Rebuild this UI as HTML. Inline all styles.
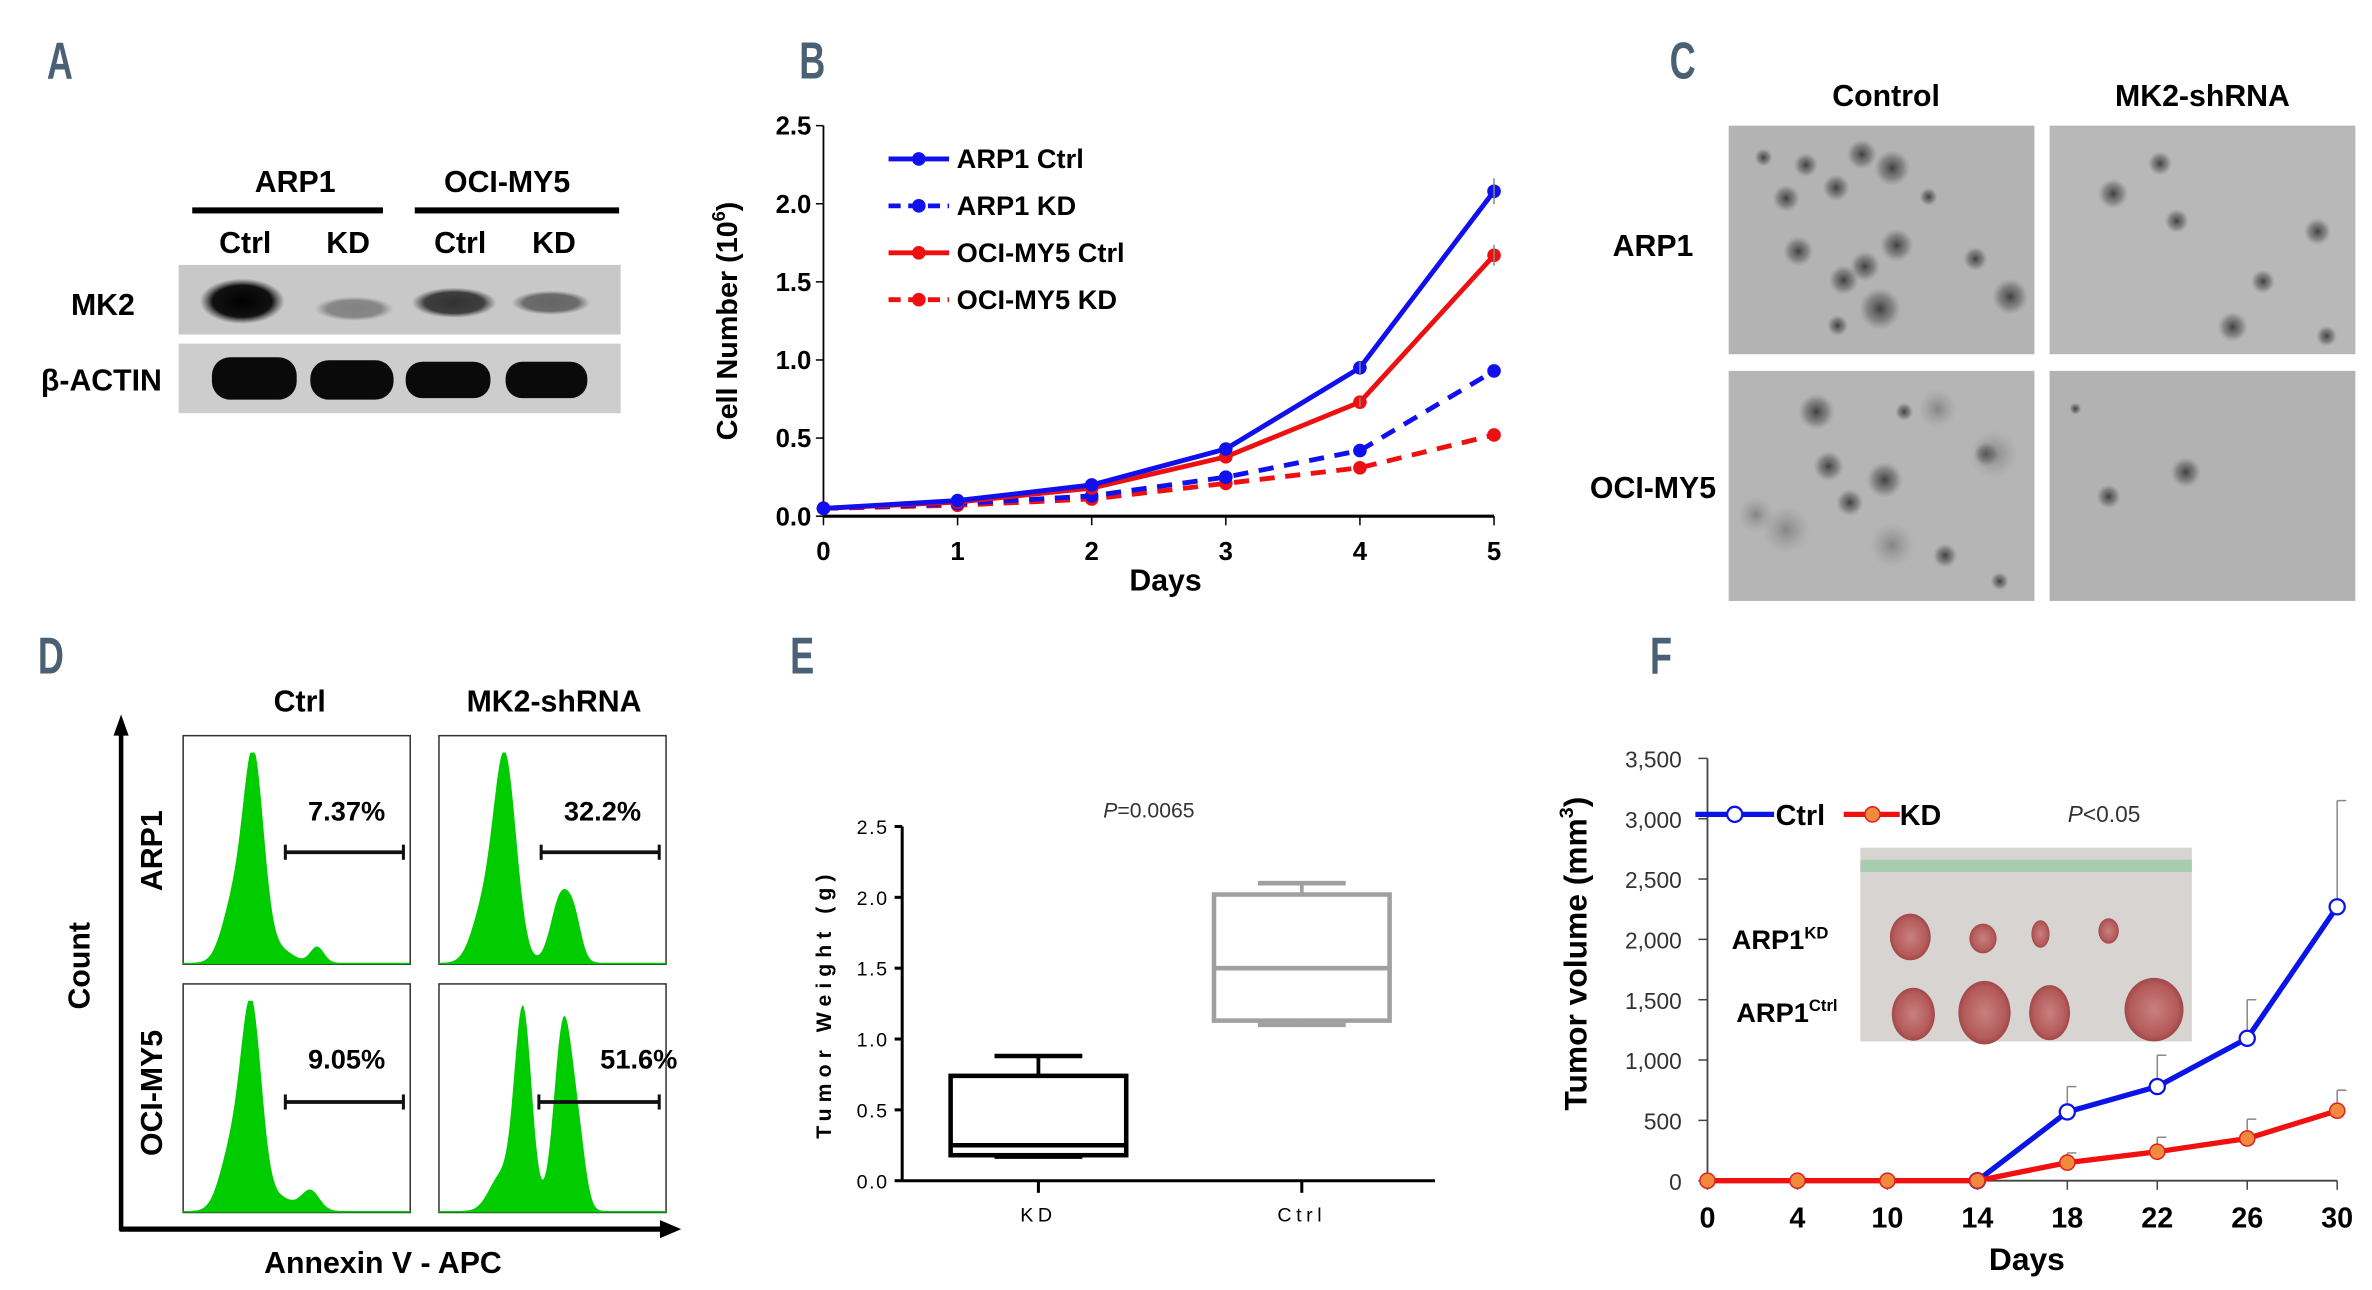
<!DOCTYPE html>
<html><head><meta charset="utf-8"><style>
html,body{margin:0;padding:0;background:#fff;}
svg{display:block;}
text{font-family:"Liberation Sans",sans-serif;}
.hd{font-family:"Liberation Sans Narrow","Liberation Sans",sans-serif;fill:#4a6075;font-size:34px;font-weight:bold;}
.b{font-weight:bold;}
</style></head><body>
<svg id="fig" width="2372" height="1290" viewBox="0 0 1567 852.2" preserveAspectRatio="none" xmlns="http://www.w3.org/2000/svg">
<defs>
<radialGradient id="blob"><stop offset="0" stop-color="#333" stop-opacity="0.9"/><stop offset="0.6" stop-color="#555" stop-opacity="0.5"/><stop offset="1" stop-color="#777" stop-opacity="0"/></radialGradient>
<radialGradient id="blobl"><stop offset="0" stop-color="#666" stop-opacity="0.6"/><stop offset="1" stop-color="#888" stop-opacity="0"/></radialGradient>
<radialGradient id="band"><stop offset="0" stop-color="#000"/><stop offset="0.7" stop-color="#111"/><stop offset="1" stop-color="#333" stop-opacity="0"/></radialGradient>
<radialGradient id="tumor"><stop offset="0" stop-color="#c98080"/><stop offset="0.8" stop-color="#b45a5a"/><stop offset="1" stop-color="#a04848"/></radialGradient>
</defs>

<!-- Panel headings -->
<text class="hd" transform="translate(31,52) scale(0.7,1)">A</text>
<text class="hd" transform="translate(528,52) scale(0.7,1)">B</text>
<text class="hd" transform="translate(1103,52) scale(0.7,1)">C</text>
<text class="hd" transform="translate(25,445) scale(0.7,1)">D</text>
<text class="hd" transform="translate(522,445) scale(0.7,1)">E</text>
<text class="hd" transform="translate(1090,445) scale(0.7,1)">F</text>

<!-- Panel A: western blot -->
<g>
<text x="195" y="127" font-size="20" class="b" text-anchor="middle">ARP1</text>
<text x="335" y="127" font-size="20" class="b" text-anchor="middle">OCI-MY5</text>
<rect x="127" y="137" width="126" height="4" fill="#000"/>
<rect x="274" y="137" width="135" height="4" fill="#000"/>
<text x="162" y="167" font-size="20" class="b" text-anchor="middle">Ctrl</text>
<text x="230" y="167" font-size="20" class="b" text-anchor="middle">KD</text>
<text x="304" y="167" font-size="20" class="b" text-anchor="middle">Ctrl</text>
<text x="366" y="167" font-size="20" class="b" text-anchor="middle">KD</text>
<text x="68" y="208" font-size="20" class="b" text-anchor="middle">MK2</text>
<text x="67" y="258" font-size="20" class="b" text-anchor="middle">β-ACTIN</text>
<rect x="118" y="175" width="292" height="46" fill="#c8c8c8"/>
<ellipse cx="160" cy="199" rx="28" ry="15" fill="url(#band)"/>
<ellipse cx="234" cy="204" rx="26" ry="8" fill="url(#band)" opacity="0.35"/>
<ellipse cx="300" cy="200" rx="28" ry="10" fill="url(#band)" opacity="0.75"/>
<ellipse cx="364" cy="200" rx="26" ry="8" fill="url(#band)" opacity="0.5"/>
<rect x="118" y="227" width="292" height="46" fill="#cdcdcd"/>
<rect x="140" y="236" width="56" height="28" rx="12" fill="#0a0a0a"/>
<rect x="205" y="238" width="55" height="26" rx="12" fill="#0a0a0a"/>
<rect x="268" y="239" width="56" height="24" rx="11" fill="#0a0a0a"/>
<rect x="334" y="239" width="54" height="24" rx="11" fill="#0a0a0a"/>
</g>

<!-- Panel B -->
<g id="chartB"></g>

<!-- Panel C -->
<g>
<text x="1246" y="70" font-size="20" class="b" text-anchor="middle">Control</text>
<text x="1455" y="70" font-size="20" class="b" text-anchor="middle">MK2-shRNA</text>
<text x="1092" y="169" font-size="20" class="b" text-anchor="middle">ARP1</text>
<text x="1092" y="329" font-size="20" class="b" text-anchor="middle">OCI-MY5</text>
<rect x="1142" y="83" width="202" height="151" fill="#b3b3b3"/>
<rect x="1354" y="83" width="202" height="151" fill="#b8b8b8"/>
<rect x="1142" y="245" width="202" height="152" fill="#b5b5b5"/>
<rect x="1354" y="245" width="202" height="152" fill="#b2b2b2"/>
<g fill="url(#blob)">
<circle cx="1165" cy="104" r="6"/><circle cx="1193" cy="109" r="8"/><circle cx="1213" cy="124" r="9"/><circle cx="1230" cy="102" r="10"/><circle cx="1250" cy="111" r="12"/><circle cx="1253" cy="162" r="11"/><circle cx="1274" cy="130" r="6"/><circle cx="1305" cy="171" r="8"/><circle cx="1188" cy="166" r="10"/><circle cx="1242" cy="204" r="14"/><circle cx="1232" cy="176" r="10"/><circle cx="1180" cy="131" r="9"/><circle cx="1328" cy="196" r="12"/><circle cx="1214" cy="215" r="7"/><circle cx="1218" cy="185" r="10"/>
<circle cx="1438" cy="146" r="8"/><circle cx="1396" cy="128" r="10"/><circle cx="1427" cy="108" r="8"/><circle cx="1531" cy="153" r="9"/><circle cx="1495" cy="186" r="8"/><circle cx="1475" cy="216" r="10"/><circle cx="1537" cy="222" r="7"/>
<circle cx="1200" cy="272" r="12"/><circle cx="1208" cy="308" r="10"/><circle cx="1245" cy="317" r="12"/><circle cx="1222" cy="332" r="9"/><circle cx="1312" cy="300" r="8"/><circle cx="1285" cy="367" r="8"/><circle cx="1321" cy="384" r="6"/><circle cx="1258" cy="272" r="6"/>
<circle cx="1444" cy="312" r="10"/><circle cx="1393" cy="328" r="8"/><circle cx="1371" cy="270" r="4"/>
</g>
<g fill="url(#blobl)"><circle cx="1180" cy="350" r="16"/><circle cx="1250" cy="360" r="15"/><circle cx="1317" cy="300" r="16"/><circle cx="1280" cy="270" r="13"/><circle cx="1160" cy="340" r="12"/></g>
</g>

<!-- Panel D -->
<g id="flow">
<text x="198" y="470" font-size="20" class="b" text-anchor="middle">Ctrl</text>
<text x="366" y="470" font-size="20" class="b" text-anchor="middle">MK2-shRNA</text>
<text transform="translate(59,638) rotate(-90)" font-size="20" class="b" text-anchor="middle">Count</text>
<text transform="translate(107,562) rotate(-90)" font-size="20" class="b" text-anchor="middle">ARP1</text>
<text transform="translate(107,722) rotate(-90)" font-size="20" class="b" text-anchor="middle">OCI-MY5</text>
<text x="253" y="841" font-size="20" class="b" text-anchor="middle">Annexin V - APC</text>
<line x1="80" y1="813" x2="80" y2="482" stroke="#000" stroke-width="3"/>
<polygon points="80,472 75,486 85,486" fill="#000"/>
<line x1="79" y1="812" x2="440" y2="812" stroke="#000" stroke-width="3.5"/>
<polygon points="450,812 436,806 436,818" fill="#000"/>
</g>

<!-- Panel E -->
<g id="chartE"></g>

<!-- Panel F -->
<g id="chartF"></g>
</svg>

<script>
const NS="http://www.w3.org/2000/svg";
function mk(parent,tag,attrs,txt){const e=document.createElementNS(NS,tag);for(const k in attrs)e.setAttribute(k,attrs[k]);if(txt!==undefined)e.textContent=txt;parent.appendChild(e);return e;}

// ---------- Panel B data ----------
const bDays=[0,1,2,3,4,5];
const bTicks=["0.0","0.5","1.0","1.5","2.0","2.5"];
const arp1Ctrl=[0.05,0.10,0.20,0.43,0.95,2.08];
const arp1KD=[0.05,0.08,0.13,0.25,0.42,0.93];
const ociCtrl=[0.05,0.09,0.18,0.38,0.73,1.67];
const ociKD=[0.05,0.07,0.11,0.21,0.31,0.52];
const bSeriesNames=["ARP1 Ctrl","ARP1 KD","OCI-MY5 Ctrl","OCI-MY5 KD"];

// ---------- Panel E data ----------
const eCats=["KD","Ctrl"];
const eMin=[0.17,1.10];
const eQ1=[0.18,1.13];
const eMed=[0.25,1.50];
const eQ3=[0.74,2.02];
const eMax=[0.88,2.10];
const eTicks=["0.0","0.5","1.0","1.5","2.0","2.5"];

// ---------- Panel F data ----------
const fDays=["0","4","10","14","18","22","26","30"];
const fCtrl=[0,0,0,0,570,780,1180,2270];
const fCtrlErr=[0,0,0,0,780,1040,1500,3150];
const fKD=[0,0,0,0,150,240,350,580];
const fKDErr=[0,0,0,0,230,360,510,750];
const fTicks=[0,500,1000,1500,2000,2500,3000,3500];

// ---------- Panel D data (histogram peaks: position fraction, height fraction, sd) ----------
const histPeaks=[
 [[0.31,0.88,0.045],[0.22,0.25,0.05],[0.42,0.06,0.06],[0.59,0.07,0.03]],
 [[0.29,0.90,0.05],[0.19,0.2,0.05],[0.54,0.30,0.045],[0.60,0.12,0.03]],
 [[0.30,0.88,0.045],[0.21,0.25,0.05],[0.42,0.06,0.06],[0.56,0.09,0.04]],
 [[0.37,0.88,0.038],[0.27,0.15,0.05],[0.55,0.84,0.042],[0.62,0.2,0.03]]
];
const histPct=["7.37%","32.2%","9.05%","51.6%"];

// ===== Panel B =====
(function(){
 const g=document.getElementById('chartB');
 const x0=544,x1=987,y0=341,y1=83;
 const xs=d=>x0+(x1-x0)*d/5, ys=v=>y0-(y0-y1)*v/2.5;
 mk(g,'line',{x1:x0,y1:y1,x2:x0,y2:y0,stroke:'#000','stroke-width':1.2});
 mk(g,'line',{x1:x0,y1:y0,x2:x1,y2:y0,stroke:'#000','stroke-width':2});
 bTicks.forEach((t,i)=>{const y=ys(i*0.5);mk(g,'line',{x1:x0-5,y1:y,x2:x0,y2:y,stroke:'#000'});
  const tx=mk(g,'text',{x:x0-8,y:y+6,'font-size':17,'font-weight':'bold','text-anchor':'end'},t);
  });
 bDays.forEach(d=>{const x=xs(d);mk(g,'line',{x1:x,y1:y0,x2:x,y2:y0+6,stroke:'#000'});
  const tx=mk(g,'text',{x:x,y:y0+29,'font-size':17,'font-weight':'bold','text-anchor':'middle'},String(d));
  });
 const xt=mk(g,'text',{x:770,y:390,'font-size':20,'font-weight':'bold','text-anchor':'middle'},'Days');
 
 const yt=mk(g,'text',{transform:'translate(487,212) rotate(-90)','font-size':19,'font-weight':'bold','text-anchor':'middle'});
 
 yt.innerHTML='Cell Number (10<tspan font-size="12" dy="-8">6</tspan><tspan dy="8">)</tspan>';
 const sers=[[arp1Ctrl,'#1010ee',''],[arp1KD,'#1010ee','10,7'],[ociCtrl,'#ee1010',''],[ociKD,'#ee1010','10,7']];
 [3,1,2,0].forEach(si=>{const [vals,c,da]=sers[si];
  const pts=vals.map((v,i)=>xs(bDays[i])+','+ys(v)).join(' ');
  const pl=mk(g,'polyline',{points:pts,fill:'none',stroke:c,'stroke-width':3.2,'stroke-dasharray':da});
  
  vals.forEach((v,i)=>{const c1=mk(g,'circle',{cx:xs(bDays[i]),cy:ys(v),r:4.5,fill:c});
   
   if(i>=4&&si%2===0){mk(g,'line',{x1:xs(bDays[i]),y1:ys(v*1.04),x2:xs(bDays[i]),y2:ys(v*0.96),stroke:'#888','stroke-width':1});}});
 });
 sers.forEach((s,i)=>{const y=105+31*i;
  mk(g,'line',{x1:587,y1:y,x2:627,y2:y,stroke:s[1],'stroke-width':3.2,'stroke-dasharray':s[2]?'8,5':''});
  mk(g,'circle',{cx:607,cy:y,r:4.5,fill:s[1]});
  const t=mk(g,'text',{x:632,y:y+6,'font-size':18,'font-weight':'bold'},bSeriesNames[i]);
  });
})();

// ===== Panel D =====
(function(){
 const g=document.getElementById('flow');
 const boxes=[[121,486],[290,486],[121,650],[290,650]];
 const W=150,H=151;
 boxes.forEach((b,k)=>{
  const [bx,by]=b;
  const r=mk(g,'rect',{x:bx,y:by,width:W,height:H,fill:'#fff',stroke:'#333','stroke-width':1});
  
  let d='M'+bx+','+(by+H);
  for(let i=0;i<=150;i++){const f=i/150;let h=0;histPeaks[k].forEach(p=>{h+=p[1]*Math.exp(-((f-p[0])**2)/(2*p[2]*p[2]));});
   h=Math.min(h,0.92);d+=' L'+(bx+f*W).toFixed(1)+','+(by+H-1-h*H).toFixed(1);}
  d+=' L'+(bx+W)+','+(by+H)+' Z';
  const p=mk(g,'path',{d:d,fill:'#00cc00'});
  
  const gx1=bx+(k===3?0.44:0.45)*W, gx2=bx+W*0.97, gy=by+(k<2?77:78);
  mk(g,'line',{x1:gx1,y1:gy,x2:gx2,y2:gy,stroke:'#111','stroke-width':2.5});
  mk(g,'line',{x1:gx1,y1:gy-5,x2:gx1,y2:gy+5,stroke:'#111','stroke-width':2});
  mk(g,'line',{x1:gx2,y1:gy-5,x2:gx2,y2:gy+5,stroke:'#111','stroke-width':2});
  const tx=k===3?bx+W*0.88:bx+W*0.72;
  const t=mk(g,'text',{x:tx,y:by+56,'font-size':18,'font-weight':'bold','text-anchor':'middle'},histPct[k]);
  
 });
})();

// ===== Panel E =====
(function(){
 const g=document.getElementById('chartE');
 const x0=596,x1=948,y0=780,y1=546;
 const ys=v=>y0-(y0-y1)*v/2.5;
 const cx=[686,860];
 mk(g,'line',{x1:x0,y1:y1,x2:x0,y2:y0,stroke:'#000','stroke-width':2});
 mk(g,'line',{x1:x0,y1:y0,x2:x1,y2:y0,stroke:'#000','stroke-width':2});
 eTicks.forEach((t,i)=>{const y=ys(i*0.5);mk(g,'line',{x1:x0-5,y1:y,x2:x0,y2:y,stroke:'#000','stroke-width':2});
  const tx=mk(g,'text',{x:x0-9,y:y+5,'font-size':13,'text-anchor':'end','letter-spacing':'1'},t);
  });
 eCats.forEach((c,i)=>{mk(g,'line',{x1:cx[i],y1:y0,x2:cx[i],y2:y0+8,stroke:'#000','stroke-width':2});
  const tx=mk(g,'text',{x:cx[i],y:y0+27,'font-size':13,'text-anchor':'middle','letter-spacing':'3'},c);
  
  const col=i===0?'#000':'#a0a0a0', hw=58;
  const bx=mk(g,'rect',{x:cx[i]-hw,y:ys(eQ3[i]),width:2*hw,height:ys(eQ1[i])-ys(eQ3[i]),fill:'none',stroke:col,'stroke-width':3});
  
  mk(g,'line',{x1:cx[i]-hw,y1:ys(eMed[i]),x2:cx[i]+hw,y2:ys(eMed[i]),stroke:col,'stroke-width':3});
  mk(g,'line',{x1:cx[i],y1:ys(eQ3[i]),x2:cx[i],y2:ys(eMax[i]),stroke:col,'stroke-width':2.5});
  mk(g,'line',{x1:cx[i]-29,y1:ys(eMax[i]),x2:cx[i]+29,y2:ys(eMax[i]),stroke:col,'stroke-width':3});
  mk(g,'line',{x1:cx[i],y1:ys(eQ1[i]),x2:cx[i],y2:ys(eMin[i]),stroke:col,'stroke-width':2.5});
  mk(g,'line',{x1:cx[i]-29,y1:ys(eMin[i]),x2:cx[i]+29,y2:ys(eMin[i]),stroke:col,'stroke-width':3});
 });
 const yt=mk(g,'text',{transform:'translate(549,663) rotate(-90)','font-size':14,'font-weight':'bold','text-anchor':'middle','letter-spacing':'4'},'Tumor Weight (g)');
 
 const pt=mk(g,'text',{x:759,y:540,'font-size':14,'text-anchor':'middle',fill:'#333'});
 pt.innerHTML='<tspan font-style="italic">P</tspan>=0.0065';
 
})();

// ===== Panel F =====
(function(){
 const g=document.getElementById('chartF');
 const x0=1128,x1=1544,y0=780,y1=501;
 const xs=i=>x0+(x1-x0)*i/(fDays.length-1), ys=v=>y0-(y0-y1)*v/3500;
 mk(g,'line',{x1:x0,y1:y1,x2:x0,y2:y0,stroke:'#444','stroke-width':1.2});
 mk(g,'line',{x1:x0,y1:y0,x2:x1,y2:y0,stroke:'#444','stroke-width':1.2});
 fTicks.forEach(v=>{const y=ys(v);mk(g,'line',{x1:x0-6,y1:y,x2:x0,y2:y,stroke:'#444'});
  const tx=mk(g,'text',{x:x0-17,y:y+6,'font-size':15,'text-anchor':'end',fill:'#333'},v.toLocaleString('en-US'));
  });
 fDays.forEach((d,i)=>{const x=xs(i);mk(g,'line',{x1:x,y1:y0,x2:x,y2:y0+6,stroke:'#444'});
  const tx=mk(g,'text',{x:x,y:y0+31,'font-size':19,'font-weight':'bold','text-anchor':'middle'},d);
  });
 const xt=mk(g,'text',{x:1339,y:839,'font-size':21,'font-weight':'bold','text-anchor':'middle'},'Days');
 
 const yt=mk(g,'text',{transform:'translate(1048,630) rotate(-90)','font-size':21,'font-weight':'bold','text-anchor':'middle'});
 yt.innerHTML='Tumor volume (mm<tspan font-size="13" dy="-9">3</tspan><tspan dy="9">)</tspan>';
 
 const ph=mk(g,'rect',{x:1229,y:560,width:219,height:128,fill:'#d8d4d2'});
 
 mk(g,'rect',{x:1229,y:568,width:219,height:8,fill:'#a8ccb0'});
 [[1262,619,18,22],[1310,620,12,14],[1348,617,8,13],[1393,615,9,12],[1264,670,19,25],[1311,669,23,30],[1354,669,18,26],[1423,667,26,30]].forEach(t=>{
  mk(g,'ellipse',{cx:t[0],cy:t[1],rx:t[2]*0.75,ry:t[3]*0.7,fill:'url(#tumor)'});});
 const l1=mk(g,'text',{x:1144,y:627,'font-size':18,'font-weight':'bold'});
 l1.innerHTML='ARP1<tspan font-size="11" dy="-7">KD</tspan>';
 
 const l2=mk(g,'text',{x:1147,y:675,'font-size':18,'font-weight':'bold'});
 l2.innerHTML='ARP1<tspan font-size="11" dy="-7">Ctrl</tspan>';
 
 fCtrl.forEach((v,i)=>{if(fCtrlErr[i]>v){const x=xs(i);mk(g,'line',{x1:x,y1:ys(v),x2:x,y2:ys(fCtrlErr[i]),stroke:'#888','stroke-width':1});mk(g,'line',{x1:x,y1:ys(fCtrlErr[i]),x2:x+6,y2:ys(fCtrlErr[i]),stroke:'#888','stroke-width':1});}});
 fKD.forEach((v,i)=>{if(fKDErr[i]>v){const x=xs(i);mk(g,'line',{x1:x,y1:ys(v),x2:x,y2:ys(fKDErr[i]),stroke:'#888','stroke-width':1});mk(g,'line',{x1:x,y1:ys(fKDErr[i]),x2:x+6,y2:ys(fKDErr[i]),stroke:'#888','stroke-width':1});}});
 const pc=fCtrl.map((v,i)=>xs(i)+','+ys(v)).slice(3).join(' ');
 const lc=mk(g,'polyline',{points:pc,fill:'none',stroke:'#0a14e6','stroke-width':3.5});
 
 fCtrl.forEach((v,i)=>{if(i>=3){const c=mk(g,'circle',{cx:xs(i),cy:ys(v),r:5,fill:'#fff',stroke:'#0a14e6','stroke-width':1.5});
  }});
 const pk=fKD.map((v,i)=>xs(i)+','+ys(v)).join(' ');
 const lk=mk(g,'polyline',{points:pk,fill:'none',stroke:'#f01010','stroke-width':3.5});
 
 fKD.forEach((v,i)=>{const c=mk(g,'circle',{cx:xs(i),cy:ys(v),r:5,fill:'#f08a3c',stroke:'#e02020','stroke-width':1});
  });
 mk(g,'line',{x1:1120,y1:538,x2:1172,y2:538,stroke:'#0a14e6','stroke-width':3.5});
 mk(g,'circle',{cx:1146,cy:538,r:5,fill:'#fff',stroke:'#0a14e6','stroke-width':1.5});
 const t1=mk(g,'text',{x:1173,y:545,'font-size':19,'font-weight':'bold'},'Ctrl');
 
 mk(g,'line',{x1:1218,y1:538,x2:1255,y2:538,stroke:'#f01010','stroke-width':3.5});
 mk(g,'circle',{cx:1237,cy:538,r:5,fill:'#f08a3c',stroke:'#e02020','stroke-width':1});
 const t2=mk(g,'text',{x:1255,y:545,'font-size':19,'font-weight':'bold'},'KD');
 
 const pv=mk(g,'text',{x:1390,y:543,'font-size':15,'text-anchor':'middle',fill:'#333'});
 pv.innerHTML='<tspan font-style="italic">P</tspan>&lt;0.05';
 
})();
</script>
</body></html>
